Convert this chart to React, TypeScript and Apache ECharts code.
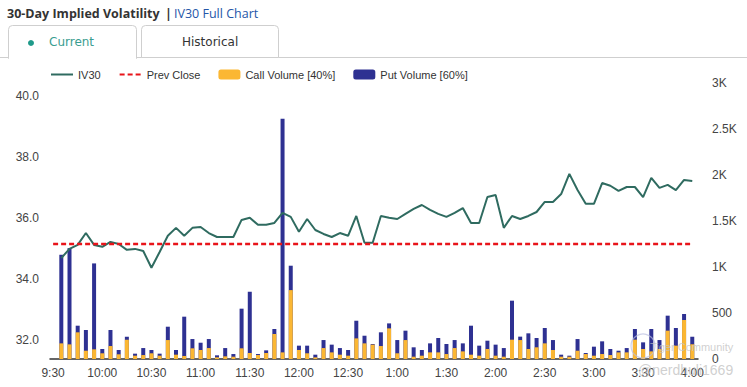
import { useEffect, useRef } from "react";
import * as echarts from "echarts";

// 5-minute slots (end times)
const times = [
  "9:35", "9:40", "9:45", "9:50", "9:55",
  "10:00", "10:05", "10:10", "10:15", "10:20", "10:25", "10:30", "10:35", "10:40", "10:45", "10:50", "10:55",
  "11:00", "11:05", "11:10", "11:15", "11:20", "11:25", "11:30", "11:35", "11:40", "11:45", "11:50", "11:55",
  "12:00", "12:05", "12:10", "12:15", "12:20", "12:25", "12:30", "12:35", "12:40", "12:45", "12:50", "12:55",
  "1:00", "1:05", "1:10", "1:15", "1:20", "1:25", "1:30", "1:35", "1:40", "1:45", "1:50", "1:55",
  "2:00", "2:05", "2:10", "2:15", "2:20", "2:25", "2:30", "2:35", "2:40", "2:45", "2:50", "2:55",
  "3:00", "3:05", "3:10", "3:15", "3:20", "3:25", "3:30", "3:35", "3:40", "3:45", "3:50", "3:55",
  "4:00",
];

const iv30 = [
  34.70, 35.00, 35.13, 35.52, 35.13, 35.07, 35.23, 35.16, 34.97, 35.00,
  34.93, 34.38, 34.90, 35.43, 35.69, 35.43, 35.69, 35.72, 35.52, 35.39,
  35.39, 35.39, 35.95, 36.02, 35.79, 35.79, 35.85, 36.18, 36.05, 35.56,
  35.98, 35.62, 35.49, 35.39, 35.52, 35.43, 36.08, 35.20, 35.20, 36.08,
  36.02, 35.98, 36.15, 36.31, 36.44, 36.28, 36.15, 36.05, 36.18, 36.34,
  35.85, 35.85, 36.70, 36.77, 35.69, 36.08, 35.98, 36.08, 36.21, 36.54,
  36.54, 36.80, 37.46, 36.93, 36.48, 36.48, 37.16, 37.07, 36.90, 37.03,
  37.03, 36.70, 37.33, 37.00, 37.10, 36.93, 37.26, 37.23,
];

const callVolume = [
  170, 159, 290, 90, 105, 62, 141, 51, 210, 36,
  43, 62, 36, 206, 47, 33, 116, 98, 119, 18,
  29, 25, 116, 65, 43, 65, 272, 72, 749, 98,
  62, 18, 119, 72, 47, 36, 224, 170, 156, 141,
  333, 62, 206, 25, 36, 72, 72, 54, 119, 83,
  47, 36, 109, 36, 25, 210, 206, 109, 127, 170,
  98, 25, 25, 90, 54, 36, 54, 43, 72, 72,
  210, 109, 83, 109, 308, 145, 424, 160,
];

const putVolume = [
  963, 1046, 72, 225, 934, 47, 174, 47, 33, 22,
  76, 36, 22, 145, 51, 427, 101, 79, 98, 22,
  90, 29, 431, 666, 11, 29, 54, 2540, 265, 47,
  83, 29, 87, 84, 72, 62, 192, 83, 7, 149,
  54, 144, 102, 102, 62, 98, 156, 109, 87, 87,
  315, 109, 90, 120, 94, 424, 37, 170, 101, 167,
  108, 22, 11, 127, 11, 98, 138, 66, 18, 47,
  116, 72, 243, 97, 163, 192, 65, 82,
];

const prevClose = 35.16;
const xTickLabels = ["9:30", "10:00", "10:30", "11:00", "11:30", "12:00", "12:30", "1:00", "1:30", "2:00", "2:30", "3:00", "3:30", "4:00"];
const leftTicks = [32, 34, 36, 38, 40];

const toMin = (t: string) => {
  let [h, m] = t.split(":").map(Number);
  if (h < 9) h += 12;
  return h * 60 + m - 570;
};

const FONT = "'Liberation Sans', Arial, sans-serif";

export default function App() {
  const ref = useRef<HTMLDivElement>(null);
  useEffect(() => {
    document.body.style.margin = "0";
    const chart = echarts.init(ref.current!, null, { renderer: "svg" });
    const xs = times.map(toMin);
    const tickMins = xTickLabels.map(toMin);
    chart.setOption({
      animation: false,
      textStyle: { fontFamily: FONT },
      graphic: [
        { type: "line", shape: { x1: 0, y1: 57.5, x2: 747, y2: 57.5 }, style: { stroke: "#cfcfcf", lineWidth: 1 } },
        { type: "rect", shape: { x: 8.5, y: 25.5, width: 128, height: 33, r: [4, 4, 0, 0] }, style: { fill: "#fff", stroke: "#cfcfcf", lineWidth: 1 } },
        { type: "rect", shape: { x: 9, y: 56.5, width: 127, height: 3 }, style: { fill: "#fff" } },
        { type: "rect", shape: { x: 141.5, y: 25.5, width: 137, height: 32, r: [4, 4, 0, 0] }, style: { fill: "#fff", stroke: "#cfcfcf", lineWidth: 1 } },
        { type: "circle", shape: { cx: 31, cy: 43, r: 3 }, style: { fill: "#1f9a8a" } },
        { type: "text", x: 49, y: 42, style: { text: "Current", fill: "#3a9d90", font: "12px 'DejaVu Sans', sans-serif", verticalAlign: "middle" } },
        { type: "text", x: 182, y: 42, style: { text: "Historical", fill: "#333", font: "12px 'DejaVu Sans', sans-serif", verticalAlign: "middle" } },
        { type: "text", x: 7, y: 13, style: { text: "30-Day Implied Volatility", fill: "#333", font: "bold 12.5px 'Open Sans', sans-serif", verticalAlign: "middle" } },
        { type: "text", x: 165, y: 13, style: { text: "|", fill: "#333", font: "bold 12.5px 'Open Sans', sans-serif", verticalAlign: "middle" } },
        { type: "text", x: 174, y: 13, style: { text: "IV30 Full Chart", fill: "#2556a8", font: "12.5px 'Open Sans', sans-serif", verticalAlign: "middle" } },
        { type: "circle", z: 100, shape: { cx: 643, cy: 346, r: 12 }, style: { fill: "none", stroke: "#b9bedf", lineWidth: 1.2, opacity: 0.7 } },
        { type: "text", z: 100, x: 650, y: 347, style: { text: "Tiger Community", fill: "#c4c4c4", font: "11px 'Liberation Sans', Arial", verticalAlign: "middle", opacity: 0.8 } },
        { type: "text", z: 100, x: 638, y: 370, style: { text: "@nerdhuli1669", fill: "#c4c4c4", font: "14px 'Liberation Sans', Arial", verticalAlign: "middle", opacity: 0.8 } },
      ],
      legend: {
        left: 50,
        top: 69,
        padding: 0,
        itemWidth: 22,
        itemHeight: 10,
        itemGap: 18,
        textStyle: { fontSize: 11, color: "#333", fontFamily: FONT },
        data: [
          { name: "IV30", itemStyle: { opacity: 0 } },
          { name: "Prev Close", itemStyle: { opacity: 0 } },
          "Call Volume [40%]",
          "Put Volume [60%]",
        ],
      },
      grid: { left: 50, right: 49, top: 83, bottom: 28, containLabel: false },
      xAxis: {
        type: "value",
        min: -1.9,
        max: 393.5,
        splitLine: { show: false },
        axisTick: { show: false },
        axisLine: { show: true, lineStyle: { color: "#333", width: 1.5 } },
        axisLabel: {
          customValues: tickMins,
          margin: 8,
          color: "#444",
          fontSize: 12,
          fontFamily: FONT,
          formatter: (v: number) => xTickLabels[tickMins.indexOf(Math.round(v))] ?? "",
        },
      },
      yAxis: [
        {
          type: "value",
          min: 31.39,
          max: 40.44,
          splitLine: { show: false },
          axisLine: { show: false },
          axisTick: { show: false },
          axisLabel: {
            customValues: leftTicks,
            margin: 11,
            color: "#444",
            fontSize: 12,
            fontFamily: FONT,
            formatter: (v: number) => v.toFixed(1),
          },
        },
        {
          type: "value",
          min: 0,
          max: 3000,
          interval: 500,
          position: "right",
          splitLine: { show: false },
          axisLine: { show: false },
          axisTick: { show: false },
          axisLabel: {
            margin: 14,
            color: "#444",
            fontSize: 12,
            fontFamily: FONT,
            formatter: (v: number) => (v < 1000 ? String(v) : v / 1000 + "K"),
          },
        },
      ],
      series: [
        {
          // drawn as full column height (call + put) behind the call part
          name: "Put Volume [60%]",
          type: "bar",
          yAxisIndex: 1,
          barWidth: 4,
          barGap: "-100%",
          itemStyle: { color: "#2e3192" },
          data: xs.map((x, i) => [x, callVolume[i] + putVolume[i]]),
        },
        {
          name: "Call Volume [40%]",
          type: "bar",
          yAxisIndex: 1,
          barWidth: 4,
          barGap: "-100%",
          itemStyle: { color: "#fbb733" },
          data: xs.map((x, i) => [x, callVolume[i]]),
        },
        {
          name: "IV30",
          type: "line",
          yAxisIndex: 0,
          symbol: "none",
          itemStyle: { color: "#2f6b60" },
          lineStyle: { color: "#2f6b60", width: 2 },
          data: xs.map((x, i) => [x, iv30[i]]),
        },
        {
          name: "Prev Close",
          type: "line",
          yAxisIndex: 0,
          symbol: "none",
          itemStyle: { color: "#e8141a" },
          lineStyle: { color: "#e8141a", width: 2.5, type: [5, 3] },
          data: [[0, prevClose], [390, prevClose]],
        },
      ],
    });
    return () => chart.dispose();
  }, []);
  return <div ref={ref} style={{ position: "absolute", left: 0, top: 0, width: 747, height: 387 }} />;
}
